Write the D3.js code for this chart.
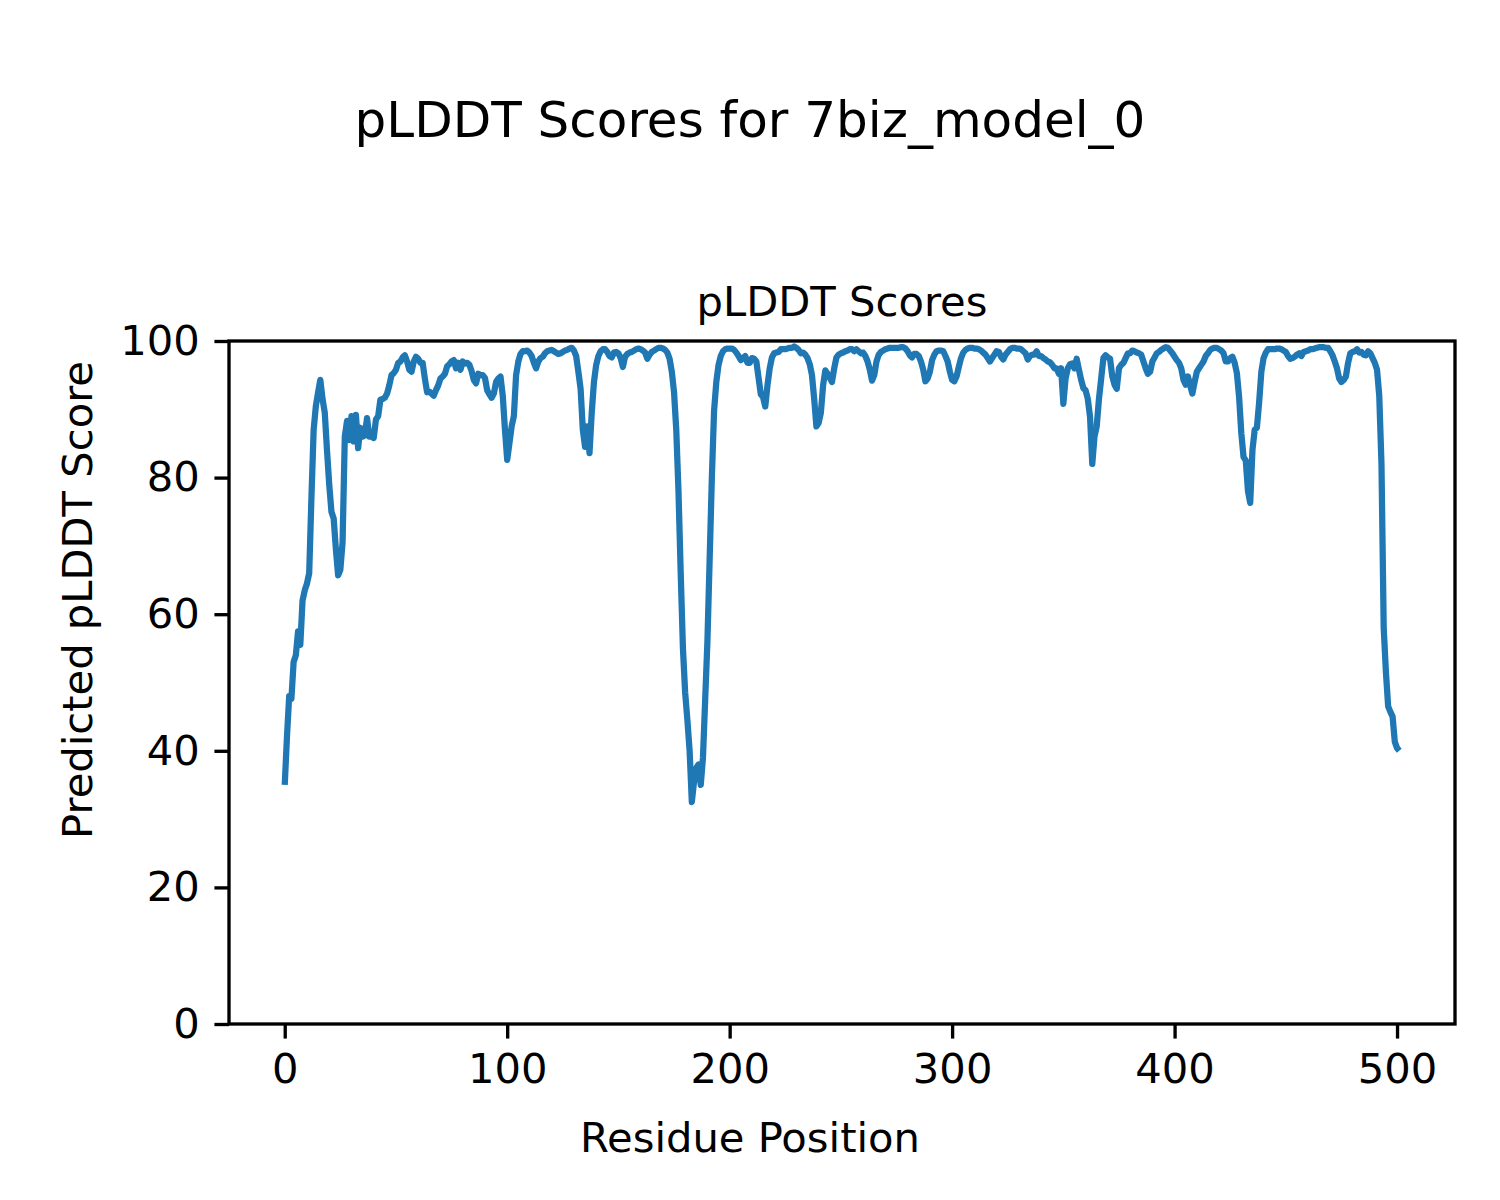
<!DOCTYPE html>
<html>
<head>
<meta charset="utf-8">
<script src="https://cdn.jsdelivr.net/npm/d3@7/dist/d3.min.js"></script>
<style>
  html, body { margin: 0; padding: 0; background: #ffffff; }
  svg { display: block; }
  text { font-family: "DejaVu Sans", sans-serif; fill: #000; }
</style>
</head>
<body>
<div id="chart"></div>
<script>
// ---- data ----
const figureTitle = "pLDDT Scores for 7biz_model_0";
const axesTitle = "pLDDT Scores";
const xLabel = "Residue Position";
const yLabel = "Predicted pLDDT Score";
const xTicks = [0, 100, 200, 300, 400, 500];
const yTicks = [0, 20, 40, 60, 80, 100];
// pLDDT per residue (index = residue position 0..501)
const plddt = [
  35, 42, 48, 47.6, 53, 54, 57.5, 55.5, 62, 63.5,
  64.5, 66, 77, 87, 90.5, 92.5, 94.3, 91.5, 89.5, 84,
  79, 75, 74, 69.5, 65.7, 66.5, 70.5, 86, 88.3, 85.5,
  89, 85.3, 89.2, 84.3, 87.3, 86, 86.2, 88.7, 86, 86,
  85.8, 88.5, 89, 91.4, 91.5, 91.7, 92.3, 93.5, 95, 95.3,
  95.8, 96.8, 97, 97.6, 97.9, 97, 95.8, 95.5, 97, 97.7,
  97.4, 96.8, 96.8, 94.5, 92.5, 92.6, 92.3, 92, 92.8, 93.5,
  94.5, 94.8, 95.2, 96.3, 96.6, 97, 97.2, 96, 96.8, 95.8,
  97, 96.7, 96.8, 96.5, 95.6, 94.3, 93.8, 95.2, 95, 95,
  94.6, 92.8, 92.2, 91.7, 92.3, 94, 94.5, 94.8, 92, 87,
  82.6, 85, 87.5, 89, 95, 97, 98.1, 98.5, 98.5, 98.6,
  98.3, 97.8, 96.8, 96, 97, 97.5, 97.7, 98.2, 98.5, 98.6,
  98.7, 98.5, 98.3, 98.1, 98.2, 98.4, 98.6, 98.7, 98.9, 99,
  98.6, 97.8, 95.5, 93, 87, 84.5, 87.5, 83.6, 89.5, 94,
  96.5, 97.8, 98.5, 98.8, 98.8, 98.4, 97.8, 97.6, 98.3, 98.4,
  98.2, 97.5, 96.2, 97.7, 98.1, 98.3, 98.4, 98.6, 98.8, 98.9,
  98.8, 98.6, 98.3, 97.4, 98, 98.4, 98.6, 98.8, 99, 99,
  98.9, 98.7, 98.3, 97.4, 95.5, 92.5, 87, 78, 66, 55,
  48.5, 44.5, 40, 32.5, 35.5, 37.5, 38, 35, 39, 47.5,
  56, 68, 80, 89.8, 94, 96.5, 97.8, 98.5, 98.8, 98.9,
  98.9, 98.9, 98.7, 98.3, 97.8, 97.2, 97.5, 97.8, 96.8, 96.8,
  97.5, 97.4, 97, 94.6, 92.2, 91.8, 90.4, 93.5, 96, 97.6,
  98.2, 98.3, 98.4, 98.8, 98.8, 98.8, 98.9, 99, 99, 99.2,
  99, 98.7, 98.2, 98.3, 98, 97.5, 96.6, 95, 91.5, 87.5,
  88, 89.5, 93.5, 95.7, 95.2, 94.6, 94, 96, 97.6, 98,
  98.2, 98.3, 98.5, 98.6, 98.8, 98.8, 98.5, 98.8, 98.5, 98.2,
  98.3, 97.8, 97, 95.8, 94.2, 95, 97, 98, 98.4, 98.6,
  98.8, 98.9, 99, 99, 99, 99, 99, 99.1, 99.1, 98.9,
  98.5, 97.9, 97.6, 98.1, 98.1, 97.8, 97, 95.8, 94.1, 94.5,
  95.5, 97.2, 98, 98.5, 98.6, 98.6, 98.5, 97.8, 97, 95.5,
  94.3, 94.1, 94.8, 96.2, 97.5, 98.3, 98.7, 98.9, 99, 99,
  98.9, 98.9, 98.8, 98.6, 98.3, 98, 97.5, 97, 97.5, 98,
  98.5, 98.4, 97.7, 97.3, 98, 98.4, 98.8, 99, 99, 98.9,
  98.9, 98.8, 98.5, 98.2, 97.3, 97.8, 98, 98, 98.5, 97.8,
  97.8, 97.5, 97.3, 97, 96.9, 96.5, 96, 96, 95.2, 96,
  90.8, 94.5, 96, 96.6, 96.7, 96, 97.4, 95.8, 94.3, 93.1,
  92.8, 91.5, 88.9, 82, 86, 87.5, 91.5, 94.5, 97.5, 97.9,
  97.6, 97.4, 94.8, 93.6, 93, 96, 96.5, 96.8, 97.5, 98.2,
  98.2, 98.6, 98.5, 98.3, 98.2, 98, 97, 96, 95.2, 95.5,
  97, 97.6, 98.2, 98.4, 98.7, 98.9, 99.1, 99, 98.6, 98.2,
  97.7, 97.2, 96.8, 96, 94.3, 93.6, 94.8, 93.5, 92.3, 94,
  95.5, 96, 96.5, 97, 97.8, 98.2, 98.7, 98.9, 99, 99,
  98.8, 98.6, 98.2, 97, 97, 97.5, 97.7, 96.8, 95.3, 91.8,
  86.5, 83, 82.5, 78, 76.3, 84, 87, 87.3, 91, 95.5,
  97.5, 98.3, 98.8, 98.8, 98.8, 98.8, 98.9, 98.9, 98.8, 98.6,
  98.4, 97.8, 97.4, 97.5, 97.7, 98, 98.2, 97.8, 98.4, 98.5,
  98.6, 98.8, 98.8, 98.9, 99, 99.1, 99.1, 99.1, 99, 99,
  98.5, 97.9, 97, 96, 94.5, 94, 94.3, 94.8, 96.8, 98.2,
  98.4, 98.5, 98.8, 98.3, 98.4, 98, 97.9, 98.5, 98.2, 97.5,
  96.8, 95.8, 92, 82, 58, 51.5, 46.5, 45.7, 45, 41.3,
  40.4, 40
];

// ---- layout ----
const W = 1500, H = 1200;
const PT = 300 / 72; // px per point (figure at 300 dpi)
const plot = { left: 229, right: 1455, top: 341, bottom: 1024 };
const n = plddt.length;
const xMargin = (n - 1) * 0.05;

const svg = d3.select("#chart").append("svg")
  .attr("width", W).attr("height", H)
  .attr("viewBox", `0 0 ${W} ${H}`);
svg.append("rect").attr("width", W).attr("height", H).attr("fill", "#ffffff");

const x = d3.scaleLinear().domain([-xMargin, (n - 1) + xMargin]).range([plot.left, plot.right]);
const y = d3.scaleLinear().domain([0, 100]).range([plot.bottom, plot.top]);

const tickLen = 3.5 * PT, tickPad = 3.5 * PT, tickW = 0.8 * PT;
const tickFont = 10 * PT;

// x axis
const gx = svg.append("g").attr("transform", `translate(0,${plot.bottom})`)
  .call(d3.axisBottom(x).tickValues(xTicks).tickFormat(d3.format("d"))
    .tickSize(tickLen).tickPadding(tickPad));
gx.select(".domain").remove();
gx.selectAll(".tick line").attr("stroke", "#000").attr("stroke-width", tickW);
gx.selectAll(".tick text").attr("font-size", tickFont).attr("font-family", "DejaVu Sans, sans-serif").attr("fill", "#000");

// y axis
const gy = svg.append("g").attr("transform", `translate(${plot.left},0)`)
  .call(d3.axisLeft(y).tickValues(yTicks).tickFormat(d3.format("d"))
    .tickSize(tickLen).tickPadding(tickPad));
gy.select(".domain").remove();
gy.selectAll(".tick line").attr("stroke", "#000").attr("stroke-width", tickW);
gy.selectAll(".tick text").attr("font-size", tickFont).attr("font-family", "DejaVu Sans, sans-serif").attr("fill", "#000");

// line
const line = d3.line().x((d, i) => x(i)).y(d => y(d));
svg.append("path").datum(plddt)
  .attr("d", line)
  .attr("fill", "none")
  .attr("stroke", "#1f77b4")
  .attr("stroke-width", 1.5 * PT)
  .attr("stroke-linejoin", "round")
  .attr("stroke-linecap", "butt");

// frame (spines)
svg.append("rect")
  .attr("x", plot.left).attr("y", plot.top)
  .attr("width", plot.right - plot.left).attr("height", plot.bottom - plot.top)
  .attr("fill", "none").attr("stroke", "#000").attr("stroke-width", 0.8 * PT);

// titles & labels
svg.append("text").attr("x", 750).attr("y", 137)
  .attr("text-anchor", "middle").attr("font-size", 12 * PT).text(figureTitle);
svg.append("text").attr("x", (plot.left + plot.right) / 2).attr("y", 316)
  .attr("text-anchor", "middle").attr("font-size", 10 * PT).text(axesTitle);
svg.append("text").attr("x", 750).attr("y", 1152)
  .attr("text-anchor", "middle").attr("font-size", 10 * PT).text(xLabel);
svg.append("text").attr("transform", "translate(92,600) rotate(-90)")
  .attr("text-anchor", "middle").attr("font-size", 10 * PT).text(yLabel);
</script>
</body>
</html>
